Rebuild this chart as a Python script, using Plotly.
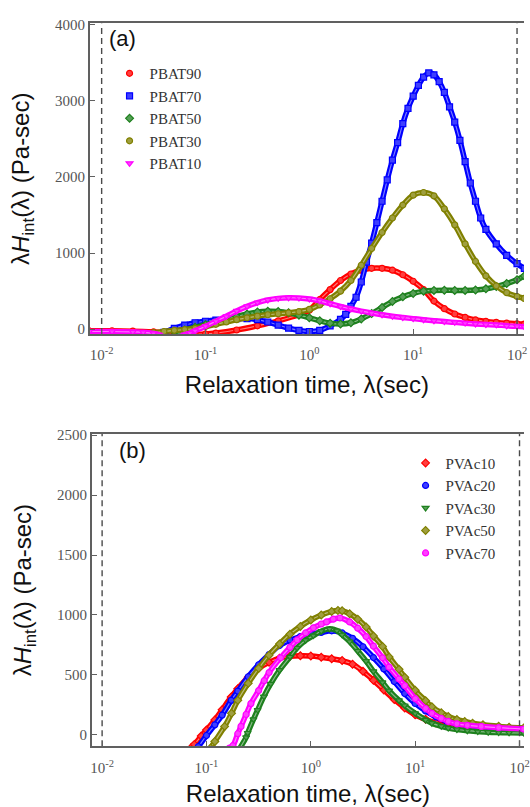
import numpy as np
import plotly.graph_objects as go

# ---------------- (a) PBAT series: log10(relaxation time / s) and lambda*H_int (Pa-sec)
pbat90_logt = [-2.12, -1.9, -1.7, -1.5, -1.3, -1.1, -1.0, -0.9, -0.7, -0.5, -0.3, -0.1, 0.0, 0.1, 0.2, 0.3,
               0.4, 0.5, 0.6, 0.7, 0.8, 0.9, 1.0, 1.1, 1.2, 1.3, 1.4, 1.5, 1.6, 1.7, 1.8, 1.9, 2.0, 2.07]
pbat90_h = [-20, -20, -25, -35, -50, -65, -62, -50, -10, 45, 110, 190, 250, 390, 520, 640, 725, 775, 800,
            800, 775, 715, 630, 520, 370, 270, 200, 155, 122, 103, 90, 80, 72, 68]

pbat70_logt = [-1.47, -1.4, -1.3, -1.2, -1.1, -1.0, -0.9, -0.8, -0.7, -0.6, -0.5, -0.4, -0.3, -0.2, -0.1,
               0.0, 0.1, 0.2, 0.3, 0.35, 0.4, 0.45, 0.5, 0.55, 0.6, 0.65, 0.7, 0.75, 0.8, 0.85, 0.9, 0.95,
               1.0, 1.05, 1.1, 1.15, 1.2, 1.25, 1.3, 1.35, 1.4, 1.45, 1.5, 1.55, 1.6, 1.65, 1.7, 1.8, 1.9,
               2.0, 2.07]
pbat70_h = [-70, -40, 10, 55, 85, 105, 120, 130, 138, 140, 125, 95, 55, 15, -15, -30, -15, 45, 130, 195,
            300, 420, 620, 880, 1130, 1400, 1680, 1960, 2220, 2450, 2700, 2900, 3060, 3200, 3310, 3365,
            3340, 3250, 3110, 2920, 2720, 2480, 2200, 1920, 1680, 1460, 1310, 1120, 970, 860, 800]

pbat50_logt = [-1.3, -1.25, -1.2, -1.1, -1.0, -0.9, -0.8, -0.7, -0.6, -0.5, -0.4, -0.3, -0.2, -0.1, 0.0,
               0.1, 0.2, 0.3, 0.4, 0.5, 0.6, 0.7, 0.8, 0.9, 1.0, 1.1, 1.2, 1.3, 1.4, 1.5, 1.6, 1.7, 1.8,
               1.9, 2.0, 2.07]
pbat50_h = [-80, -40, -10, 25, 60, 90, 125, 165, 200, 225, 235, 232, 215, 185, 150, 110, 80, 68, 85, 135,
            205, 285, 365, 425, 470, 500, 510, 512, 510, 510, 515, 530, 560, 600, 650, 700]

pbat30_logt = [-1.72, -1.65, -1.5, -1.4, -1.3, -1.2, -1.1, -1.0, -0.9, -0.8, -0.7, -0.6, -0.5, -0.4, -0.3,
               -0.2, -0.1, 0.0, 0.1, 0.2, 0.3, 0.4, 0.5, 0.6, 0.7, 0.8, 0.9, 1.0, 1.1, 1.2, 1.3, 1.4, 1.5,
               1.6, 1.7, 1.8, 1.9, 2.0, 2.07]
pbat30_h = [-80, -60, -45, -30, -15, -5, 10, 35, 65, 95, 125, 150, 172, 190, 203, 215, 232, 260, 320, 400,
            500, 640, 840, 1060, 1270, 1460, 1630, 1760, 1795, 1750, 1580, 1370, 1120, 890, 700, 570, 480,
            430, 405]

pbat10_logt = [-2.12, -1.9, -1.7, -1.6, -1.5, -1.45, -1.4, -1.3, -1.25, -1.2, -1.15, -1.1, -1.0, -0.9,
               -0.8, -0.7, -0.6, -0.5, -0.4, -0.3, -0.2, -0.1, 0.0, 0.1, 0.2, 0.3, 0.4, 0.5, 0.6, 0.7, 0.8,
               0.9, 1.0, 1.1, 1.2, 1.3, 1.4, 1.5, 1.6, 1.7, 1.8, 1.9, 2.0, 2.07]
pbat10_h = [-30, -30, -35, -40, -55, -70, -100, -130, -100, -70, -50, -20, 40, 105, 170, 240, 300, 350,
            385, 405, 413, 410, 398, 372, 335, 298, 266, 238, 213, 190, 170, 154, 139, 125, 112, 100, 90,
            80, 70, 62, 57, 45, 38, 32]

# ---------------- (b) PVAc series
pvac10_logt = [-1.15, -1.116, -1.05, -1.0, -0.92, -0.85, -0.763, -0.7, -0.6, -0.5, -0.4, -0.3, -0.2, -0.1,
               0.0, 0.1, 0.2, 0.3, 0.4, 0.5, 0.6, 0.7, 0.8, 0.9, 1.0, 1.1, 1.2, 1.3, 1.4, 1.5, 1.6, 1.7,
               1.8, 1.9, 2.04]
pvac10_h = [-110, -79, -10, 40, 125, 210, 316, 385, 480, 555, 605, 640, 655, 660, 658, 648, 635, 620, 590,
            530, 455, 375, 295, 225, 168, 130, 100, 78, 65, 56, 50, 46, 42, 40, 38]

pvac20_logt = [-1.1, -1.078, -1.0, -0.92, -0.85, -0.763, -0.7, -0.6, -0.5, -0.4, -0.3, -0.2, -0.1, 0.0,
               0.1, 0.2, 0.3, 0.4, 0.5, 0.6, 0.7, 0.8, 0.9, 1.0, 1.1, 1.2, 1.3, 1.4, 1.5, 1.6, 1.7, 1.8,
               1.9, 2.04]
pvac20_h = [-120, -98, -5, 84, 165, 288, 365, 485, 585, 670, 745, 790, 820, 842, 855, 868, 850, 805, 735,
            645, 550, 445, 345, 262, 200, 150, 115, 92, 78, 72, 65, 58, 52, 48]

pvac30_logt = [-0.68, -0.62, -0.605, -0.55, -0.51, -0.45, -0.385, -0.3, -0.2, -0.132, -0.05, 0.025, 0.1,
               0.18, 0.25, 0.3, 0.372, 0.45, 0.53, 0.6, 0.687, 0.75, 0.845, 0.9, 1.0, 1.1, 1.16, 1.25,
               1.317, 1.4, 1.5, 1.6, 1.7, 1.8, 1.9, 2.04]
pvac30_h = [-110, -20, 16, 130, 207, 320, 425, 540, 650, 725, 790, 828, 865, 885, 870, 835, 779, 700, 615,
            530, 438, 370, 288, 245, 180, 125, 98, 72, 57, 45, 35, 28, 22, 19, 17, 16]

pvac50_logt = [-0.96, -0.92, -0.826, -0.76, -0.7, -0.6, -0.5, -0.4, -0.3, -0.2, -0.1, 0.0, 0.1, 0.2,
               0.26, 0.3, 0.372, 0.45, 0.53, 0.6, 0.687, 0.75, 0.845, 0.9, 1.0, 1.1, 1.16, 1.25, 1.317,
               1.4, 1.475, 1.55, 1.65, 1.8, 1.9, 2.04]
pvac50_h = [-110, -55, 71, 180, 288, 430, 555, 665, 758, 840, 905, 958, 1000, 1030, 1038, 1035, 1010, 965,
            900, 825, 738, 650, 547, 480, 372, 285, 234, 185, 153, 128, 112, 97, 84, 72, 64, 57]

pvac70_logt = [-0.78, -0.747, -0.7, -0.669, -0.62, -0.574, -0.5, -0.447, -0.4, -0.29, -0.2, -0.132,
               -0.05, 0.025, 0.1, 0.151, 0.215, 0.28, 0.372, 0.45, 0.53, 0.6, 0.687, 0.75, 0.845, 0.9,
               1.002, 1.1, 1.16, 1.25, 1.317, 1.4, 1.5, 1.633, 1.8, 2.04]
pvac70_h = [-110, -90, 10, 71, 170, 261, 370, 452, 520, 643, 730, 792, 850, 893, 925, 942, 965, 975, 942,
            890, 820, 740, 643, 565, 466, 410, 302, 220, 180, 138, 112, 92, 80, 71, 60, 49]

# Integration window limits (s), drawn as dashed verticals
window_limits = [0.01, 100]

# Tick labels
x_tickvals = [0.01, 0.1, 1, 10, 100]
x_ticktext = ["10<sup>-2</sup>", "10<sup>-1</sup>", "10<sup>0</sup>", "10<sup>1</sup>", "10<sup>2</sup>"]
ya_ticks = [0, 1000, 2000, 3000, 4000]
yb_ticks = [0, 500, 1000, 1500, 2000, 2500]

RED, BLUE, GREEN, OLIVE, MAGENTA = "#ff0000", "#0000ff", "#1e801e", "#808000", "#ff00ff"

panel_a = [
    ("PBAT90", pbat90_logt, pbat90_h, RED, "circle"),
    ("PBAT70", pbat70_logt, pbat70_h, BLUE, "square"),
    ("PBAT50", pbat50_logt, pbat50_h, GREEN, "diamond"),
    ("PBAT30", pbat30_logt, pbat30_h, OLIVE, "circle"),
    ("PBAT10", pbat10_logt, pbat10_h, MAGENTA, "triangle-down"),
]
panel_b = [
    ("PVAc10", pvac10_logt, pvac10_h, RED, "diamond"),
    ("PVAc20", pvac20_logt, pvac20_h, BLUE, "circle"),
    ("PVAc30", pvac30_logt, pvac30_h, GREEN, "triangle-down"),
    ("PVAc50", pvac50_logt, pvac50_h, OLIVE, "diamond"),
    ("PVAc70", pvac70_logt, pvac70_h, MAGENTA, "circle"),
]

ya_range = [-64, 4015]
yb_range = [-95, 2510]


def tint(hex_color, f):
    h = hex_color.lstrip("#")
    r, g, b = (int(h[i:i + 2], 16) for i in (0, 2, 4))
    r, g, b = (int(c + (255 - c) * f) for c in (r, g, b))
    return f"rgb({r},{g},{b})"


fig = go.Figure()


def add_series(name, logt, h, color, symbol, xa, ya, legend):
    lam = 10 ** np.array(logt, dtype=float)
    # thick band
    fig.add_trace(go.Scatter(x=lam, y=h, mode="lines", xaxis=xa, yaxis=ya,
                             line=dict(color=color, width=5.5, shape="spline", smoothing=1.0),
                             showlegend=False, hoverinfo="skip"))
    # light core of the band
    fig.add_trace(go.Scatter(x=lam, y=h, mode="lines", xaxis=xa, yaxis=ya,
                             line=dict(color=tint(color, 0.6), width=1.2, shape="spline", smoothing=1.0),
                             opacity=0.8, showlegend=False, hoverinfo="skip"))
    # symbols
    fig.add_trace(go.Scatter(x=lam, y=h, mode="markers", name=name, xaxis=xa, yaxis=ya, legend=legend,
                             marker=dict(symbol=symbol, size=6, color=tint(color, 0.25),
                                         line=dict(color=color, width=1.2))))


for s in panel_a:
    add_series(*s, "x", "y", "legend")
for s in panel_b:
    add_series(*s, "x2", "y2", "legend2")

# dashed window limits
for xa, ya, yr in (("x", "y", ya_range), ("x2", "y2", yb_range)):
    for w in window_limits:
        fig.add_trace(go.Scatter(x=[w, w], y=yr, mode="lines", xaxis=xa, yaxis=ya,
                                 line=dict(color="#4a4a4a", width=1.4, dash="6px,4px"),
                                 showlegend=False, hoverinfo="skip"))

W, H = 530, 807
tick_font = dict(family="Liberation Serif, DejaVu Serif, serif", size=15, color="#555555")
title_font = dict(family="Liberation Sans, Arial, sans-serif", size=24, color="#111111")
legend_font = dict(family="Liberation Serif, DejaVu Serif, serif", size=15, color="#333333")
ytitle = "λ<i>H</i><sub>int</sub>(λ) (Pa-sec)"
xtitle = "Relaxation time, λ(sec)"

axis_common = dict(showline=True, linecolor="#606060", linewidth=1.6, ticks="inside", ticklen=5,
                   tickwidth=1.2, tickcolor="#606060", showgrid=False, zeroline=False,
                   tickfont=tick_font, title_font=title_font, ticklabeloverflow="allow")

fig.update_layout(
    width=W, height=H, margin=dict(l=0, r=0, t=0, b=0),
    paper_bgcolor="white", plot_bgcolor="white",
    xaxis=dict(type="log", domain=[90 / W, 1], range=[-2.114, 2.067], anchor="y", mirror=True,
               tickvals=x_tickvals, ticktext=x_ticktext, ticklabelstandoff=6,
               title=dict(text=xtitle, standoff=14), **axis_common),
    yaxis=dict(domain=[1 - 333.3 / H, 1 - 16.7 / H], range=ya_range, anchor="x",
               tickvals=ya_ticks, title=dict(text=ytitle, standoff=19), **axis_common),
    xaxis2=dict(type="log", domain=[92 / W, 1], range=[-2.099, 2.043], anchor="y2", mirror=True,
                tickvals=x_tickvals, ticktext=x_ticktext, ticklabelstandoff=7,
                title=dict(text=xtitle, standoff=14), **axis_common),
    yaxis2=dict(domain=[1 - 753.3 / H, 1 - 435 / H], range=yb_range, anchor="x2",
                tickvals=yb_ticks, title=dict(text=ytitle, standoff=19), **axis_common),
    legend=dict(x=110 / W, y=1 - 51 / H, xanchor="left", yanchor="top", bgcolor="rgba(0,0,0,0)",
                font=legend_font, tracegroupgap=0),
    legend2=dict(x=410 / W, y=1 - 448 / H, xanchor="left", yanchor="top", bgcolor="rgba(0,0,0,0)",
                 font=legend_font, tracegroupgap=0),
    annotations=[
        dict(text="(a)", x=123 / W, y=1 - 32 / H, xref="paper", yref="paper", showarrow=False,
             xanchor="center", yanchor="middle",
             font=dict(family="Liberation Sans, Arial, sans-serif", size=22, color="#111111")),
        dict(text="(b)", x=133 / W, y=1 - 452 / H, xref="paper", yref="paper", showarrow=False,
             xanchor="center", yanchor="middle",
             font=dict(family="Liberation Sans, Arial, sans-serif", size=22, color="#111111")),
    ],
)

fig.write_html("out.html")
